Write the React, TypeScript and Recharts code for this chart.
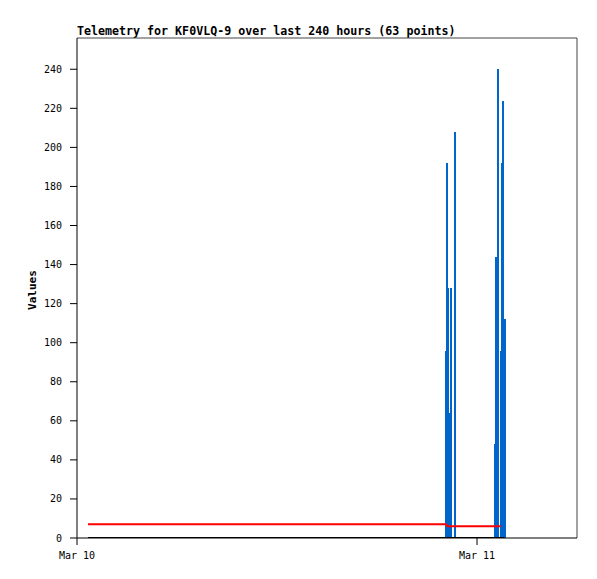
import React from "react";
import {
  ComposedChart,
  Bar,
  Line,
  XAxis,
  YAxis,
  ReferenceLine,
} from "recharts";

// hours since Mar 10 00:00
const impulseHours = [
  22.13, 22.19, 22.24, 22.34, 22.42, 22.66,
  25.07, 25.13, 25.2, 25.25, 25.43, 25.48, 25.55, 25.63,
];
const impulseValues = [96, 192, 128, 64, 128, 208, 48, 144, 208, 240, 96, 192, 224, 112];

const redHours = [0.66, 22.13, 22.24, 25.43];
const redValues = [7, 7, 6, 6];

const blackHours = [0.66, 25.63];
const blackValues = [0, 0];

const xTicks = [0, 24];
const xTickLabels = ["Mar 10", "Mar 11"];
const yTicks = [0, 20, 40, 60, 80, 100, 120, 140, 160, 180, 200, 220, 240];

const title = "Telemetry for KF0VLQ-9 over last 240 hours (63 points)";

const rows: { t: number; imp?: number; red?: number; black?: number }[] = [];
impulseHours.forEach((t, i) => rows.push({ t, imp: impulseValues[i] }));
redHours.forEach((t, i) => rows.push({ t, red: redValues[i] }));
blackHours.forEach((t, i) => rows.push({ t, black: blackValues[i] }));
rows.sort((a, b) => a.t - b.t);

const tickStyle = { fill: "#000", fontSize: 10, fontFamily: "DejaVu Sans Mono" };

const Impulse = (p: any) =>
  p.height > 0 ? (
    <rect
      x={Math.round(p.x)}
      y={Math.round(p.y)}
      width={2}
      height={Math.round(p.height)}
      fill="#0066cc"
      shapeRendering="crispEdges"
    />
  ) : null;

export default function App() {
  return (
    <div style={{ position: "absolute", left: 0, top: 0, width: 597, height: 579, background: "#fff" }}>
      <div
        style={{
          position: "absolute",
          left: 77,
          top: 24,
          fontFamily: "DejaVu Sans Mono",
          fontWeight: "bold",
          fontSize: 11.65,
          lineHeight: "14px",
          whiteSpace: "nowrap",
          color: "#000",
        }}
      >
        {title}
      </div>
      <div
        style={{
          position: "absolute",
          left: 32,
          top: 290,
          transform: "translate(-50%, -50%) rotate(-90deg)",
          fontFamily: "DejaVu Sans Mono",
          fontWeight: "bold",
          fontSize: 11,
          whiteSpace: "nowrap",
          color: "#000",
        }}
      >
        Values
      </div>
      <ComposedChart
        width={597}
        height={579}
        data={rows}
        margin={{ top: 38, right: 20, bottom: 0, left: 0 }}
      >
        <XAxis
          dataKey="t"
          type="number"
          domain={[0, 30]}
          ticks={xTicks}
          tickFormatter={(v: number) => xTickLabels[xTicks.indexOf(v)]}
          height={41}
          stroke="#000"
          tickSize={7}
          tickMargin={7}
          tick={tickStyle}
          allowDataOverflow
        />
        <YAxis
          type="number"
          domain={[0, 256]}
          ticks={yTicks}
          width={77}
          stroke="#000"
          tickSize={7}
          tickMargin={8}
          tick={tickStyle}
          allowDataOverflow
        />
        <ReferenceLine y={256} stroke="#444" />
        <ReferenceLine x={30} stroke="#444" />
        <Bar dataKey="imp" fill="#0066cc" barSize={2} shape={Impulse} isAnimationActive={false} />
        <Line
          dataKey="red"
          stroke="#ff0000"
          strokeWidth={2}
          dot={false}
          connectNulls
          type="linear"
          isAnimationActive={false}
        />
        <Line
          dataKey="black"
          stroke="#000"
          strokeWidth={2}
          dot={false}
          connectNulls
          type="linear"
          isAnimationActive={false}
        />
      </ComposedChart>
    </div>
  );
}
